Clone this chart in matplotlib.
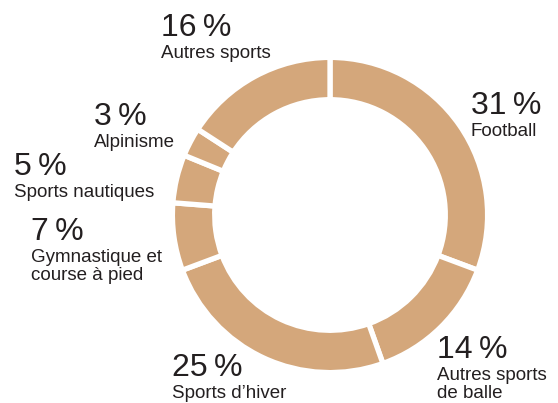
import matplotlib.pyplot as plt

# parts du donut, dans le sens horaire depuis le haut
categories = ["Football", "Autres sports\nde balle", "Sports d\u2019hiver",
              "Gymnastique et\ncourse à pied", "Sports nautiques", "Alpinisme",
              "Autres sports"]
values = [31, 14, 25, 7, 5, 3, 16]

# position du texte (pixels: gauche, haut du pourcentage)
label_pos = [(471, 91), (437, 335), (172, 353), (31, 217), (14, 152), (94, 102), (161, 13)]

W, H = 558, 403
fig = plt.figure(figsize=(W / 100, H / 100), dpi=100)
ax = fig.add_axes([0, 0, 1, 1])

# le trait blanc mange ~2.6 px de chaque côté
ax.pie(values, startangle=90, counterclock=False, colors=["#D4A77B"] * len(values),
       radius=157.6, center=(330, H - 215),
       wedgeprops=dict(width=42.3, edgecolor="white", linewidth=3.8))
ax.set_xlim(0, W)
ax.set_ylim(0, H)
ax.set_aspect("equal")
ax.axis("off")

fonts = ["Liberation Sans", "DejaVu Sans"]
for cat, val, (x, y) in zip(categories, values, label_pos):
    fig.text(x / W, 1 - y / H, f"{val}\u2009%", fontsize=23, family=fonts,
             color="#231F20", va="top", ha="left")
    fig.text(x / W, 1 - (y + 32) / H, cat, fontsize=13.5, family=fonts,
             color="#231F20", va="top", ha="left", linespacing=1.05)

plt.savefig("out.png", dpi=100)
